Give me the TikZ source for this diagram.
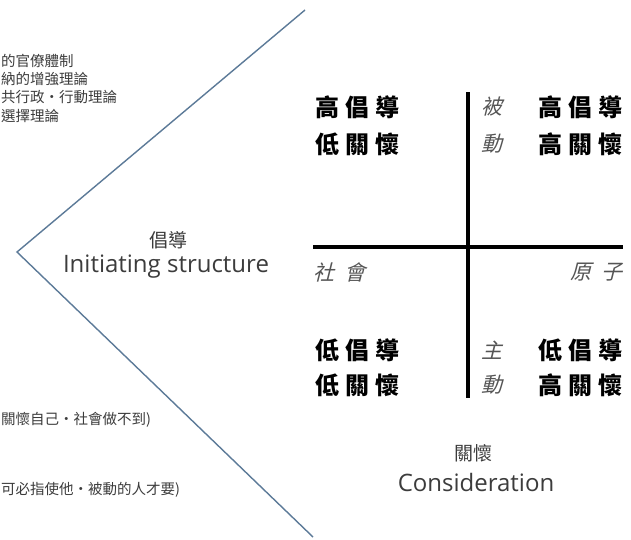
\documentclass[tikz,border=0pt]{standalone}
\usepackage{fontspec}
\setmainfont{Open Sans}
\newfontfamily\cjk{Noto Sans CJK TC}
\newfontfamily\cjkslant{Noto Sans CJK TC}[FakeSlant=0.25]
\newcommand\spaced[3]{#1\hspace{6pt}#2\hspace{6pt}#3}
\definecolor{vlinecol}{RGB}{92,122,152}
\definecolor{txtgray}{RGB}{60,60,60}
\definecolor{slantgray}{RGB}{85,85,85}
\tikzset{
  vline/.style={draw=vlinecol, line width=1.4pt},
  axis/.style={draw=black, line width=4pt},
  quad/.style={inner sep=0pt, font=\cjk\bfseries\fontsize{24}{24}\selectfont, text=black},
  slant/.style={inner sep=0pt, font=\cjkslant\fontsize{21}{21}\selectfont, text=slantgray},
  small/.style={inner sep=0pt, anchor=west, font=\cjk\fontsize{14.5}{14.5}\selectfont, text=txtgray},
  cjklabel/.style={inner sep=0pt, font=\cjk\fontsize{19}{19}\selectfont, text=txtgray},
  latlabel/.style={inner sep=0pt, font=\fontsize{24}{24}\selectfont, text=txtgray}
}
\begin{document}
\begin{tikzpicture}[x=1pt,y=-1pt]
\useasboundingbox[fill=white] (0,0) rectangle (631,539);
% big "<" lines
\coordinate (vt) at (305,10);
\coordinate (vv) at (17,252);
\coordinate (vb) at (313,537);
\draw[vline] (vt) -- (vv) -- (vb);
% quadrant axes
\coordinate (axt) at (468,92);
\coordinate (axb) at (468,398);
\coordinate (axl) at (313,247);
\coordinate (axr) at (623,247);
\draw[axis] (axt) -- (axb);
\draw[axis] (axl) -- (axr);
% quadrant texts
\node[quad, anchor=west] (tl1) at (315,107) {\spaced{高}{倡}{導}};
\node[quad, anchor=west] (tl2) at (315,144) {\spaced{低}{關}{懷}};
\node[quad, anchor=east] (tr1) at (623,107) {\spaced{高}{倡}{導}};
\node[quad, anchor=east] (tr2) at (623,144) {\spaced{高}{關}{懷}};
\node[quad, anchor=west] (bl1) at (315,350) {\spaced{低}{倡}{導}};
\node[quad, anchor=west] (bl2) at (315,385) {\spaced{低}{關}{懷}};
\node[quad, anchor=east] (br1) at (623,350) {\spaced{低}{倡}{導}};
\node[quad, anchor=east] (br2) at (623,385) {\spaced{高}{關}{懷}};
% slanted labels
\node[slant] (bei) at (492,107) {被};
\node[slant] (dong1) at (492,144) {動};
\node[slant] (zhu) at (492,350) {主};
\node[slant] (dong2) at (492,385) {動};
\node[slant, anchor=west] (shehui) at (313,272) {社\hspace{10pt}會};
\node[slant, anchor=east] (yuanzi) at (623,272) {原\hspace{10pt}子};
% axis titles
\node[cjklabel] (chang) at (168,240) {倡導};
\node[latlabel] (init) at (166,267) {Initiating structure};
\node[cjklabel] (guan) at (473,453) {關懷};
\node[latlabel] (cons) at (476,482) {Consideration};
% notes on the left
\node[small] (n1) at (1,61) {的官僚體制};
\node[small] (n2) at (1,79) {納的增強理論};
\node[small] (n3) at (1,97) {共行政・行動理論};
\node[small] (n4) at (1,116) {選擇理論};
\node[small] (n5) at (1,420) {關懷自己・社會做不到)};
\node[small] (n6) at (1,490) {可必指使他・被動的人才要)};
\end{tikzpicture}
\end{document}
